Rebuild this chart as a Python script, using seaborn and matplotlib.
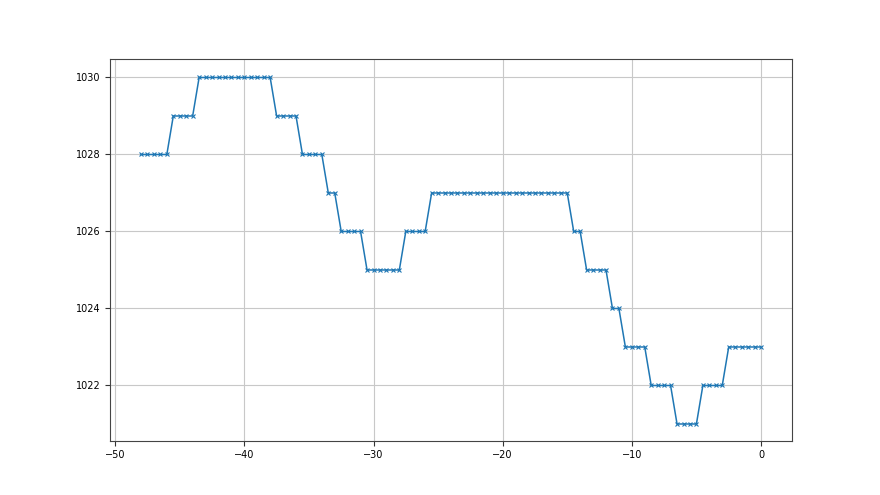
import numpy as np
import pandas as pd
import seaborn as sns
import matplotlib
matplotlib.use("Agg")
import matplotlib.pyplot as plt

# step levels and how many half-hour samples each lasts
levels = [1028, 1029, 1030, 1029, 1028, 1027, 1026, 1025, 1026, 1027,
          1026, 1025, 1024, 1023, 1022, 1021, 1022, 1023]
counts = [5, 4, 12, 4, 4, 2, 4, 6, 4, 22, 2, 4, 2, 4, 4, 4, 4, 6]
pressure = [lv for lv, c in zip(levels, counts) for _ in range(c)]
hours = [-48 + 0.5 * i for i in range(len(pressure))]

df = pd.DataFrame({"hours": hours, "pressure": pressure})

sns.set_style("white")
plt.rcParams["font.family"] = ["DejaVu Sans"]
fig, ax = plt.subplots(figsize=(8.8, 4.95), dpi=100)
sns.lineplot(data=df, x="hours", y="pressure", marker="x", markersize=3.5,
             linewidth=1.1, color="#1f77b4", markeredgecolor="#1f77b4",
             markeredgewidth=0.8, ax=ax)
ax.grid(True, color="#c8c8c8", linewidth=0.8)
ax.set_xlabel("")
ax.set_ylabel("")
ax.set_xticks([-50, -40, -30, -20, -10, 0])
ax.set_yticks([1022, 1024, 1026, 1028, 1030])
ax.tick_params(labelsize=7, length=3.5, width=0.8, colors="#333333",
               labelcolor="black", left=True, bottom=True)
for s in ax.spines.values():
    s.set_color("#444444")
    s.set_linewidth(0.8)
ax.set_xlim(-50.4, 2.4)
ax.set_ylim(1020.57, 1030.47)
fig.savefig("out.png", dpi=100)
